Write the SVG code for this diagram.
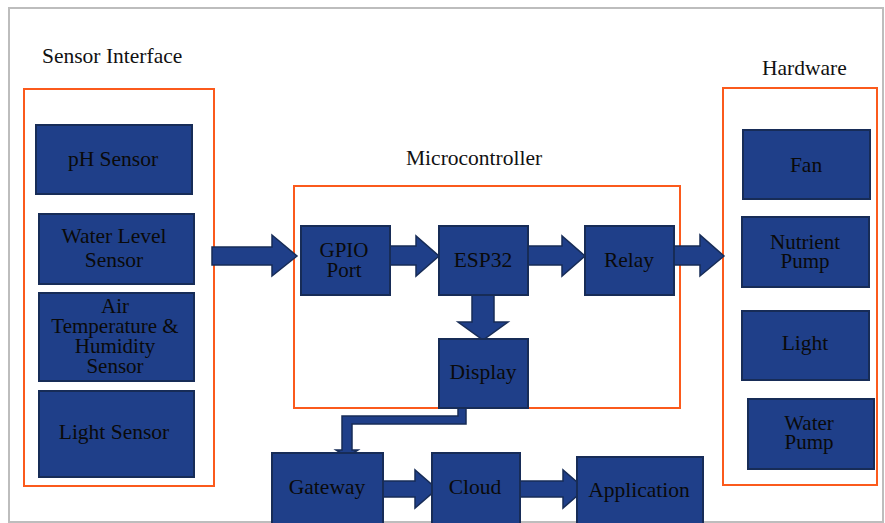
<svg xmlns="http://www.w3.org/2000/svg" width="885" height="523" viewBox="0 0 885 523">
  <style>
    .frame { fill: #ffffff; stroke: #bdbdbd; stroke-width: 2; }
    .group { fill: none; stroke: #fb5a1c; stroke-width: 2; }
    .node { fill: #1f3f89; stroke: #172c57; stroke-width: 2; }
    .flow { fill: #1f3f89; stroke: #172c57; stroke-width: 1.5; stroke-linejoin: miter; }
    .title { font-family: "Liberation Serif", "Times New Roman", serif; font-size: 21.5px; fill: #111111; }
    .label { font-family: "Liberation Serif", "Times New Roman", serif; font-size: 21.5px; fill: #0a0a0a; text-anchor: middle; }
    .tight { font-size: 21px; }
  </style>

  <rect class="frame" x="9" y="8" width="874" height="514"/>

  <!-- group frames and titles -->
  <g id="sensor-interface">
    <rect class="group" x="24" y="89" width="190" height="397"/>
    <text class="title" x="42" y="63">Sensor Interface</text>
  </g>
  <g id="microcontroller">
    <rect class="group" x="294" y="186" width="386" height="222"/>
    <text class="title" x="406" y="165">Microcontroller</text>
  </g>
  <g id="hardware">
    <rect class="group" x="723" y="88" width="154" height="397"/>
    <text class="title" x="762" y="75">Hardware</text>
  </g>

  <!-- connectors -->
  <g id="connectors">
    <!-- sensors -> GPIO -->
    <polygon class="flow" points="212,247 272,247 272,235 297,256 272,276 272,265 212,265"/>
    <!-- GPIO -> ESP32 -->
    <polygon class="flow" points="390,246 416,246 416,236 439,256 416,276 416,265 390,265"/>
    <!-- ESP32 -> Relay -->
    <polygon class="flow" points="528,246 562,246 562,236 585,256 562,276 562,265 528,265"/>
    <!-- Relay -> hardware -->
    <polygon class="flow" points="674,246 700,246 700,235 724,256 700,276 700,265 674,265"/>
    <!-- ESP32 -> Display -->
    <polygon class="flow" points="472,295 494,295 494,322 508,322 483,340 458,322 472,322"/>
    <!-- Display -> Gateway (elbow) -->
    <polygon class="flow" points="458,408 466,408 466,424 352,424 352,450 358,450 347,457 336,450 342,450 342,416 458,416"/>
    <!-- Gateway -> Cloud -->
    <polygon class="flow" points="383,481 415,481 415,470 437,489 415,508 415,497 383,497"/>
    <!-- Cloud -> Application -->
    <polygon class="flow" points="520,481 563,481 563,470 585,489 563,508 563,497 520,497"/>
  </g>

  <!-- sensor nodes -->
  <g id="ph-sensor">
    <rect class="node" x="36" y="125" width="156" height="69"/>
    <text class="label" x="113" y="166">pH Sensor</text>
  </g>
  <g id="water-level-sensor">
    <rect class="node" x="39" y="214" width="155" height="70"/>
    <text class="label" x="114" y="243">Water Level</text>
    <text class="label" x="114" y="267">Sensor</text>
  </g>
  <g id="air-temp-humidity-sensor">
    <rect class="node" x="39" y="293" width="155" height="88"/>
    <text class="label tight" x="115" y="313">Air</text>
    <text class="label tight" x="115" y="333">Temperature &amp;</text>
    <text class="label tight" x="115" y="353">Humidity</text>
    <text class="label tight" x="115" y="373">Sensor</text>
  </g>
  <g id="light-sensor">
    <rect class="node" x="39" y="391" width="155" height="86"/>
    <text class="label" x="114" y="439">Light Sensor</text>
  </g>

  <!-- microcontroller nodes -->
  <g id="gpio-port">
    <rect class="node" x="301" y="226" width="89" height="69"/>
    <text class="label tight" x="344" y="257">GPIO</text>
    <text class="label tight" x="344" y="277">Port</text>
  </g>
  <g id="esp32">
    <rect class="node" x="439" y="226" width="89" height="69"/>
    <text class="label" x="483" y="267">ESP32</text>
  </g>
  <g id="relay">
    <rect class="node" x="585" y="226" width="89" height="69"/>
    <text class="label" x="629" y="267">Relay</text>
  </g>
  <g id="display">
    <rect class="node" x="439" y="339" width="89" height="69"/>
    <text class="label" x="483" y="379">Display</text>
  </g>

  <!-- network nodes -->
  <g id="gateway">
    <rect class="node" x="272" y="453" width="111" height="75"/>
    <text class="label" x="327" y="494">Gateway</text>
  </g>
  <g id="cloud">
    <rect class="node" x="432" y="453" width="88" height="75"/>
    <text class="label" x="475" y="494">Cloud</text>
  </g>
  <g id="application">
    <rect class="node" x="577" y="457" width="126" height="70"/>
    <text class="label" x="639" y="497">Application</text>
  </g>

  <!-- hardware nodes -->
  <g id="fan">
    <rect class="node" x="743" y="130" width="127" height="69"/>
    <text class="label" x="806" y="172">Fan</text>
  </g>
  <g id="nutrient-pump">
    <rect class="node" x="742" y="217" width="127" height="70"/>
    <text class="label tight" x="805" y="249">Nutrient</text>
    <text class="label tight" x="805" y="268">Pump</text>
  </g>
  <g id="light">
    <rect class="node" x="742" y="311" width="127" height="69"/>
    <text class="label" x="805" y="350">Light</text>
  </g>
  <g id="water-pump">
    <rect class="node" x="748" y="399" width="126" height="70"/>
    <text class="label tight" x="809" y="430">Water</text>
    <text class="label tight" x="809" y="449">Pump</text>
  </g>
</svg>
